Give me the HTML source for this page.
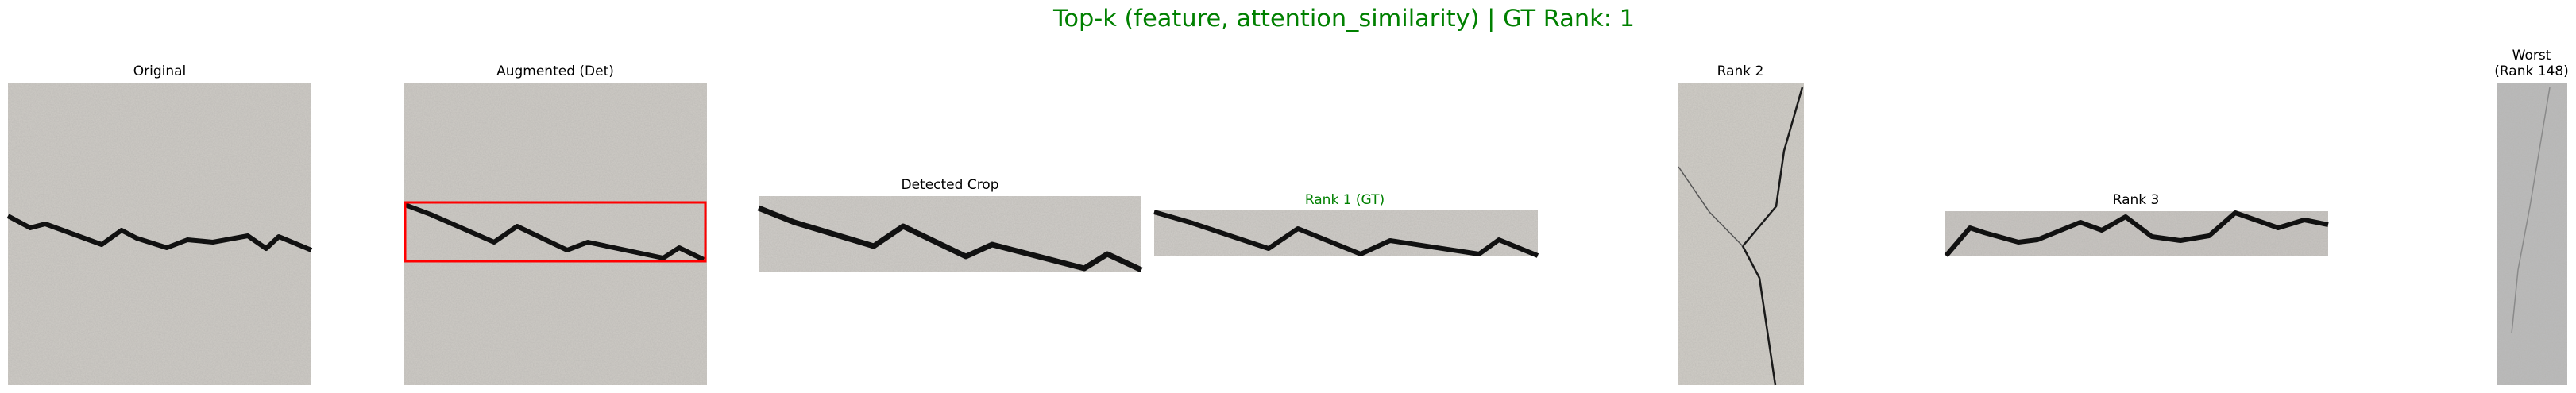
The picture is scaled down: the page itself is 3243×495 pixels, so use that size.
<!DOCTYPE html>
<html><head><meta charset="utf-8"><style>
html,body{margin:0;padding:0;background:#fff;}
svg{display:block;}
text{font-family:"DejaVu Sans","Liberation Sans",sans-serif;}
</style></head><body>
<svg width="3243" height="495" viewBox="0 0 3243 495" xmlns="http://www.w3.org/2000/svg">
<defs>
<filter id="grain" x="0" y="0" width="100%" height="100%">
<feTurbulence type="fractalNoise" baseFrequency="0.7" numOctaves="2" seed="3" result="n"/>
<feColorMatrix in="n" type="matrix" values="0 0 0 0 0.45  0 0 0 0 0.44  0 0 0 0 0.42  0 0 0 0.8 -0.2" result="c"/>
<feComposite in="c" in2="SourceGraphic" operator="in" result="g"/>
<feMerge><feMergeNode in="SourceGraphic"/><feMergeNode in="g"/></feMerge>
</filter>
</defs>

<text x="1692" y="33" text-anchor="middle" font-size="29" fill="#008000" textLength="732" lengthAdjust="spacingAndGlyphs">Top-k (feature, attention_similarity) | GT Rank: 1</text>

<text x="201" y="95" text-anchor="middle" font-size="17" fill="#000">Original</text>
<g>
<rect x="10" y="104" width="382" height="381" fill="#cbc8c3" filter="url(#grain)"/>
<polyline points="10,272 38,287 57,282 128,308 153,290 172,300 210,312 236,302 268,305 312,297 335,313 351,298 392,315" fill="none" stroke="#111" stroke-width="6" stroke-linejoin="round"/>
</g>

<text x="699" y="95" text-anchor="middle" font-size="17" fill="#000">Augmented (Det)</text>
<g>
<rect x="508" y="104" width="382" height="381" fill="#cbc8c3" filter="url(#grain)"/>
<polyline points="510,258 542,270 622,305 651,285 714,315 740,305 835,325 855,312 886,327" fill="none" stroke="#111" stroke-width="6" stroke-linejoin="round"/>
<rect x="510" y="255" width="378" height="74" fill="none" stroke="#ff0000" stroke-width="3"/>
</g>

<text x="1196" y="238" text-anchor="middle" font-size="17" fill="#000">Detected Crop</text>
<g>
<rect x="955" y="247" width="482" height="95" fill="#ccc9c5" filter="url(#grain)"/>
<polyline points="955,262 1000,280 1100,310 1137,285 1216,323 1249,308 1365,338 1394,320 1437,340" fill="none" stroke="#111" stroke-width="7" stroke-linejoin="round"/>
</g>

<text x="1693" y="257" text-anchor="middle" font-size="17" fill="#008000">Rank 1 (GT)</text>
<g>
<rect x="1453" y="265" width="483" height="58" fill="#ccc9c5" filter="url(#grain)"/>
<polyline points="1453,267 1498,280 1597,313 1634,288 1713,320 1750,303 1862,320 1887,302 1936,322" fill="none" stroke="#111" stroke-width="6" stroke-linejoin="round"/>
</g>

<text x="2191" y="95" text-anchor="middle" font-size="17" fill="#000">Rank 2</text>
<g>
<rect x="2113" y="104" width="158" height="381" fill="#cdcac4" filter="url(#grain)"/>
<polyline points="2269,110 2246,190 2236,260 2194,310 2215,350 2235,485" fill="none" stroke="#1a1a1a" stroke-width="2.5"/>
<polyline points="2113,210 2152,267 2194,310" fill="none" stroke="#555" stroke-width="1.5"/>
</g>

<text x="2689" y="257" text-anchor="middle" font-size="17" fill="#000">Rank 3</text>
<g>
<rect x="2449" y="266" width="482" height="57" fill="#c6c3bf" filter="url(#grain)"/>
<polyline points="2450,322 2480,287 2498,293 2541,305 2565,302 2619,280 2646,290 2676,273 2709,298 2745,303 2781,297 2814,268 2868,287 2901,277 2931,283" fill="none" stroke="#111" stroke-width="6" stroke-linejoin="round"/>
</g>

<text x="3187" y="75" text-anchor="middle" font-size="17" fill="#000">Worst</text>
<text x="3187" y="95" text-anchor="middle" font-size="17" fill="#000">(Rank 148)</text>
<g>
<rect x="3144" y="104" width="88" height="381" fill="#bababa" filter="url(#grain)"/>
<polyline points="3210,110 3200,170 3185,260 3170,340 3162,420" fill="none" stroke="#8a8a8a" stroke-width="1.5"/>
</g>
</svg>
</body></html>
